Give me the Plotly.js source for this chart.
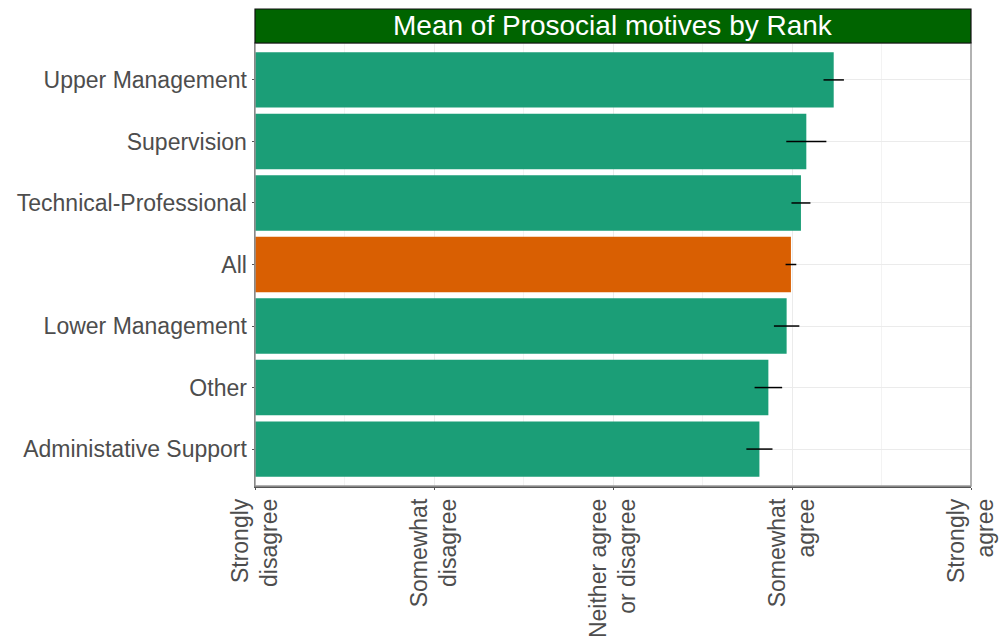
<!DOCTYPE html>
<html>
<head>
<meta charset="utf-8">
<script src="https://cdn.plot.ly/plotly-3.0.1.min.js"></script>
<style>html,body{margin:0;padding:0;background:#fff;}#chart{width:1005px;height:641px;}</style>
</head>
<body>
<div id="chart"></div>
<script>
// Categories bottom to top
var categories = ["Administative Support", "Other", "Lower Management", "All", "Technical-Professional", "Supervision", "Upper Management"];
var means = [3.818, 3.868, 3.970, 3.994, 4.050, 4.080, 4.233];
var errors = [0.073, 0.077, 0.071, 0.030, 0.053, 0.112, 0.057];
var barColors = ["#1B9E77", "#1B9E77", "#1B9E77", "#D95F02", "#1B9E77", "#1B9E77", "#1B9E77"];
var scaleVals = [1, 2, 3, 4, 5];
var scaleLabels = ["Strongly<br>disagree", "Somewhat<br>disagree", "Neither agree<br>or disagree", "Somewhat<br>agree", "Strongly<br>agree"];
var titleText = "Mean of Prosocial motives by Rank";

var trace = {
  type: "bar",
  orientation: "h",
  y: categories,
  x: means,
  marker: {color: barColors, line: {width: 0}},
  error_x: {type: "data", array: errors, visible: true, color: "#000000", thickness: 1.5, width: 0},
  hoverinfo: "x+y"
};

var layout = {
  width: 1005,
  height: 641,
  margin: {l: 255, r: 34, t: 43, b: 155},
  paper_bgcolor: "#ffffff",
  plot_bgcolor: "#ffffff",
  showlegend: false,
  bargap: 0.1,
  font: {family: "Liberation Sans, Arial, sans-serif", color: "#4d4d4d"},
  xaxis: {
    range: [1, 5],
    tickmode: "array",
    tickvals: scaleVals,
    ticktext: scaleLabels,
    tickangle: -90,
    tickfont: {size: 23, color: "#4d4d4d"},
    showgrid: true,
    gridcolor: "#ebebeb",
    gridwidth: 1,
    zeroline: false,
    showline: true,
    linecolor: "#555555",
    linewidth: 1.5,
    ticks: "outside",
    ticklen: 2,
    tickcolor: "#555555",
    minor: {tickmode: "array", tickvals: [1.5, 2.5, 3.5, 4.5], showgrid: true, gridcolor: "#f3f3f3", ticks: ""},
    fixedrange: true
  },
  yaxis: {
    type: "category",
    range: [-0.6, 6.6],
    tickfont: {size: 23, color: "#4d4d4d"},
    showgrid: true,
    gridcolor: "#ebebeb",
    zeroline: false,
    showline: true,
    linecolor: "#555555",
    linewidth: 1.5,
    ticks: "outside",
    ticklen: 2,
    tickcolor: "#555555",
    fixedrange: true
  },
  shapes: [
    {type: "rect", xref: "paper", yref: "paper", x0: 0, x1: 1, y0: 0, y1: 1, line: {color: "#999999", width: 1.5}, fillcolor: "rgba(0,0,0,0)", layer: "above"},
    {type: "rect", xref: "paper", yref: "paper", x0: 0, x1: 1, y0: 1, y1: 1 + 34/443, line: {color: "#111111", width: 1.2}, fillcolor: "#006400", layer: "above"}
  ],
  annotations: [
    {text: titleText, xref: "paper", yref: "paper", x: 0.5, y: 1 + 17/443, xanchor: "center", yanchor: "middle", showarrow: false, font: {size: 28, color: "#ffffff", family: "Liberation Sans, Arial, sans-serif"}}
  ]
};

Plotly.newPlot("chart", [trace], layout, {displayModeBar: false, staticPlot: true});
</script>
</body>
</html>
